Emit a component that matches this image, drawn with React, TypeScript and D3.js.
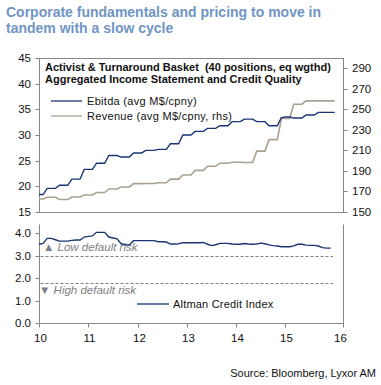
import React from 'react';
import * as d3 from 'd3';

// Monthly observations, Jan 2010 onwards (index = months since Jan 2010)
const ebitda = [
  18.4, 18.4, 19.6, 19.6, 19.6, 20.2, 20.2, 20.2, 21.4, 21.4, 21.4, 23.3, 23.3, 23.3,
  24.5, 24.5, 24.5, 26.0, 26.0, 26.0, 25.7, 25.7, 25.7, 26.5, 26.5, 26.5, 27.0, 27.0,
  27.0, 27.2, 27.2, 27.2, 28.3, 28.3, 28.3, 30.0, 30.0, 30.0, 30.7, 30.7, 30.7, 31.3,
  31.3, 31.3, 31.8, 31.8, 31.8, 32.6, 32.6, 32.6, 33.1, 33.1, 33.1, 32.6, 32.6, 32.6,
  31.8, 31.8, 31.8, 33.4, 33.5, 33.5, 33.3, 33.3, 33.3, 33.9, 33.9, 33.9, 34.4, 34.4,
  34.4, 34.4, 34.4,
];
const revenue = [
  162.7, 162.7, 164.3, 164.3, 164.3, 162.2, 162.2, 162.2, 164.6, 164.6, 164.6, 166.6,
  166.6, 166.6, 169.0, 169.0, 169.0, 172.4, 172.4, 172.4, 174.4, 174.4, 174.4, 177.6,
  177.6, 177.6, 177.8, 177.8, 177.8, 178.5, 178.5, 178.5, 182.0, 182.0, 182.0, 186.0,
  186.0, 186.0, 190.5, 190.5, 190.5, 194.5, 194.5, 194.5, 197.5, 197.5, 197.5, 198.5,
  198.5, 198.5, 198.2, 198.2, 198.2, 209.3, 209.3, 209.3, 220.5, 220.5, 220.5, 241.0,
  241.0, 241.0, 255.0, 255.0, 255.0, 258.2, 258.2, 258.2, 258.2, 258.2, 258.2, 258.2,
  258.2,
];
const altman = [
  3.50, 3.54, 3.76, 3.76, 3.70, 3.64, 3.64, 3.64, 3.67, 3.69, 3.69, 3.82, 3.85, 3.87,
  4.03, 4.03, 4.03, 3.82, 3.78, 3.74, 3.52, 3.48, 3.47, 3.66, 3.66, 3.66, 3.66, 3.66,
  3.66, 3.61, 3.61, 3.60, 3.51, 3.51, 3.52, 3.57, 3.57, 3.57, 3.57, 3.57, 3.58, 3.50,
  3.44, 3.48, 3.54, 3.54, 3.54, 3.51, 3.50, 3.50, 3.53, 3.51, 3.50, 3.51, 3.55, 3.52,
  3.47, 3.44, 3.42, 3.39, 3.39, 3.39, 3.43, 3.50, 3.50, 3.46, 3.45, 3.45, 3.42, 3.35,
  3.33, 3.33,
];

const yearLabels = ['10', '11', '12', '13', '14', '15', '16'];
const leftTicks = [15, 20, 25, 30, 35, 40, 45];
const rightTicks = [150, 170, 190, 210, 230, 250, 270, 290];
const bottomTicks = [0, 1, 2, 3, 4];
const thresholds = [3.0, 1.8];

const FONT = 'Liberation Sans, Arial, sans-serif';
const NAVY = '#1a3575';
const TAN = '#aaa192';
const AXIS = '#868686';

export default function App() {
  const x = d3.scaleLinear().domain([0, 74]).range([39, 343]);
  const yL = d3.scaleLinear().domain([15, 45]).range([212, 58]);
  const yR = d3.scaleLinear().domain([150, 300]).range([212, 58]);
  const yB = d3.scaleLinear().domain([0, 4]).range([323, 233]);

  const lineL = d3.line<number>().x((_, i) => x(i)).y((d) => yL(d));
  const lineR = d3.line<number>().x((_, i) => x(i)).y((d) => yR(d));
  const lineB = d3.line<number>().x((_, i) => x(i)).y((d) => yB(d));

  const top = 58.5, bot = 212.5, left = 39.5, right = 343.5;
  const bTop = 224.5, bBot = 323.5;

  return (
    <svg width={381} height={385} style={{ position: 'absolute', left: 0, top: 0, background: '#fff' }} fontFamily={FONT}>
      <text x={6} y={17} fontSize={14} fontWeight="bold" fill="#7095c4">Corporate fundamentals and pricing to move in</text>
      <text x={6} y={33} fontSize={14} fontWeight="bold" fill="#7095c4">tandem with a slow cycle</text>

      {/* top panel frame */}
      <rect x={left} y={top} width={right - left} height={bot - top} fill="none" stroke={AXIS} strokeWidth={1} />
      {leftTicks.map((t) => (
        <g key={'l' + t}>
          <line x1={left - 4} x2={left} y1={Math.round(yL(t)) + 0.5} y2={Math.round(yL(t)) + 0.5} stroke={AXIS} />
          <text x={31} y={yL(t)} dy="0.35em" fontSize={11.5} textAnchor="end" fill="#111">{t}</text>
        </g>
      ))}
      {rightTicks.map((t) => (
        <g key={'r' + t}>
          <line x1={right} x2={right + 4} y1={Math.round(yR(t)) + 0.5} y2={Math.round(yR(t)) + 0.5} stroke={AXIS} />
          <text x={352} y={yR(t)} dy="0.35em" fontSize={11.5} textAnchor="start" fill="#111">{t}</text>
        </g>
      ))}
      <text x={45} y={71} fontSize={11} fontWeight="bold" fill="#111" style={{ whiteSpace: 'pre' }}>{'Activist & Turnaround Basket  (40 positions, eq wgthd)'}</text>
      <text x={45} y={83} fontSize={11} fontWeight="bold" fill="#111">Aggregated Income Statement and Credit Quality</text>

      <line x1={51} x2={82} y1={101} y2={101} stroke={NAVY} strokeWidth={1.3} />
      <text x={87} y={101} dy="0.35em" fontSize={11} letterSpacing={0.3} fill="#111">Ebitda (avg M$/cpny)</text>
      <line x1={51} x2={82} y1={116} y2={116} stroke={TAN} strokeWidth={1.3} />
      <text x={87} y={116} dy="0.35em" fontSize={11} letterSpacing={0.3} fill="#111">Revenue (avg M$/cpny, rhs)</text>

      <path d={lineR(revenue) || ''} fill="none" stroke={TAN} strokeWidth={1.6} />
      <path d={lineL(ebitda) || ''} fill="none" stroke={NAVY} strokeWidth={1.4} />

      {/* bottom panel */}
      <line x1={left} x2={left} y1={bTop} y2={bBot} stroke={AXIS} />
      <line x1={right} x2={right} y1={bTop} y2={bBot + 3} stroke={AXIS} />
      <line x1={left} x2={right} y1={bBot} y2={bBot} stroke={AXIS} />
      {bottomTicks.map((t) => (
        <g key={'b' + t}>
          <line x1={left - 4} x2={left} y1={Math.round(yB(t)) + 0.5} y2={Math.round(yB(t)) + 0.5} stroke={AXIS} />
          <text x={31} y={yB(t)} dy="0.35em" fontSize={11.5} textAnchor="end" fill="#111">{t.toFixed(1)}</text>
        </g>
      ))}
      {yearLabels.map((lab, i) => {
        const m = i < 6 ? i * 12 : 74;
        const px = Math.round(x(m)) + 0.5;
        return (
          <g key={'x' + lab}>
            <line x1={px} x2={px} y1={bBot} y2={bBot + 4} stroke={AXIS} />
            <text x={i < 6 ? px + 1 : px - 3} y={338} dy="0.35em" fontSize={11.5} textAnchor="middle" fill="#111">{lab}</text>
          </g>
        );
      })}
      {thresholds.map((t) => (
        <line key={'th' + t} x1={left + 1} x2={333} y1={Math.round(yB(t)) + 0.5} y2={Math.round(yB(t)) + 0.5} stroke="#7f7f7f" strokeDasharray="3,2" />
      ))}
      <text x={43} y={247} dy="0.35em" fontSize={11.5} fontStyle="italic" fill="#808080">▲ Low default risk</text>
      <text x={39} y={290} dy="0.35em" fontSize={11.5} fontStyle="italic" fill="#808080">▼ High default risk</text>
      <line x1={137} x2={169} y1={304} y2={304} stroke={NAVY} strokeWidth={1.3} />
      <text x={173} y={304} dy="0.35em" fontSize={11} letterSpacing={0.2} fill="#111">Altman Credit Index</text>

      <path d={lineB(altman) || ''} fill="none" stroke={NAVY} strokeWidth={1.4} />

      <text x={376} y={373} dy="0.35em" fontSize={11} textAnchor="end" fill="#111">Source: Bloomberg, Lyxor AM</text>
    </svg>
  );
}
